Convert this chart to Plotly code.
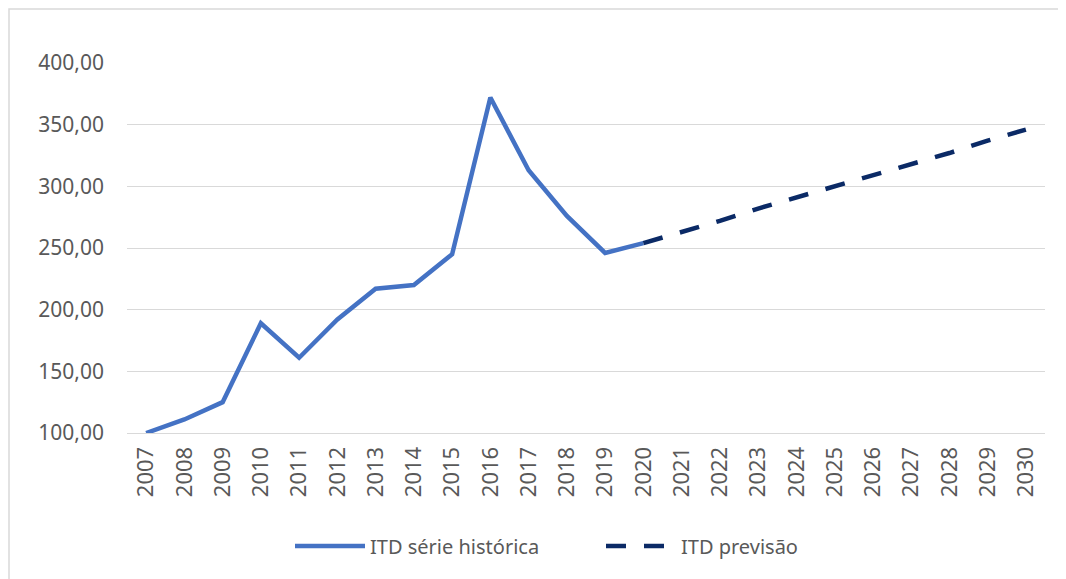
import plotly.graph_objects as go

years = [str(y) for y in range(2007, 2031)]
hist_years = [str(y) for y in range(2007, 2021)]
hist_values = [100, 111, 125, 189, 161, 192, 217, 220, 245, 372, 313, 276, 246, 254]
fc_years = [str(y) for y in range(2020, 2031)]
fc_values = [254, 263, 272, 282, 291, 300, 309, 318, 327, 337, 346]
y_ticks = [100, 150, 200, 250, 300, 350, 400]
y_tick_labels = ["100,00", "150,00", "200,00", "250,00", "300,00", "350,00", "400,00"]

OFF = 8  # default page body margin
W, H = 1066 - OFF, 579 - OFF
PL, PR, PT, PB = 127, 1045, 63, 433  # plot area in page pixels
L, T = PL - OFF, PT - OFF
R = W + OFF - PR
B = H + OFF - PB
pw, ph = PR - PL, PB - PT

def px_x(px):
    return (px - PL) / pw

def px_y(py):
    return (PB - py) / ph

fig = go.Figure()
fig.add_trace(go.Scatter(
    x=hist_years, y=hist_values, mode="lines", name="ITD série histórica",
    line=dict(color="#4472C4", width=4.5), legend="legend",
))
fig.add_trace(go.Scatter(
    x=fc_years, y=fc_values, mode="lines", name="ITD previsão",
    line=dict(color="#0B2A66", width=4.5, dash="20px,18px"), legend="legend2",
))

leg_common = dict(orientation="h", yanchor="middle", xanchor="left",
                  font=dict(size=20, color="#595959"), itemwidth=70,
                  bgcolor="rgba(0,0,0,0)")

fig.update_layout(
    width=W, height=H,
    margin=dict(l=L, r=R, t=T, b=B, pad=0),
    paper_bgcolor="white", plot_bgcolor="white",
    font=dict(family="Noto Sans, Open Sans, sans-serif", color="#595959", size=20),
    showlegend=True,
    legend=dict(x=px_x(290), y=px_y(546), **leg_common),
    legend2=dict(x=px_x(601), y=px_y(546), **leg_common),
    xaxis=dict(type="category", categoryorder="array", categoryarray=years,
               range=[-0.5, 23.5], tickangle=-90, showgrid=False, zeroline=False,
               showline=True, linecolor="#d9d9d9", linewidth=1, ticks="",
               ticklabelstandoff=4,
               tickfont=dict(size=22, color="#595959")),
    yaxis=dict(range=[100, 400], tickvals=y_ticks, ticktext=y_tick_labels,
               showgrid=True, gridcolor="#d9d9d9", gridwidth=1, zeroline=False,
               showline=False, ticks="", ticklabelstandoff=22,
               tickfont=dict(size=21, color="#595959")),
    shapes=[dict(type="rect", xref="paper", yref="paper",
                 x0=px_x(9), x1=px_x(1080),
                 y0=px_y(590), y1=px_y(9),
                 line=dict(color="#d9d9d9", width=1.5), fillcolor="rgba(0,0,0,0)",
                 layer="below")],
)

fig.write_html("out.html")
